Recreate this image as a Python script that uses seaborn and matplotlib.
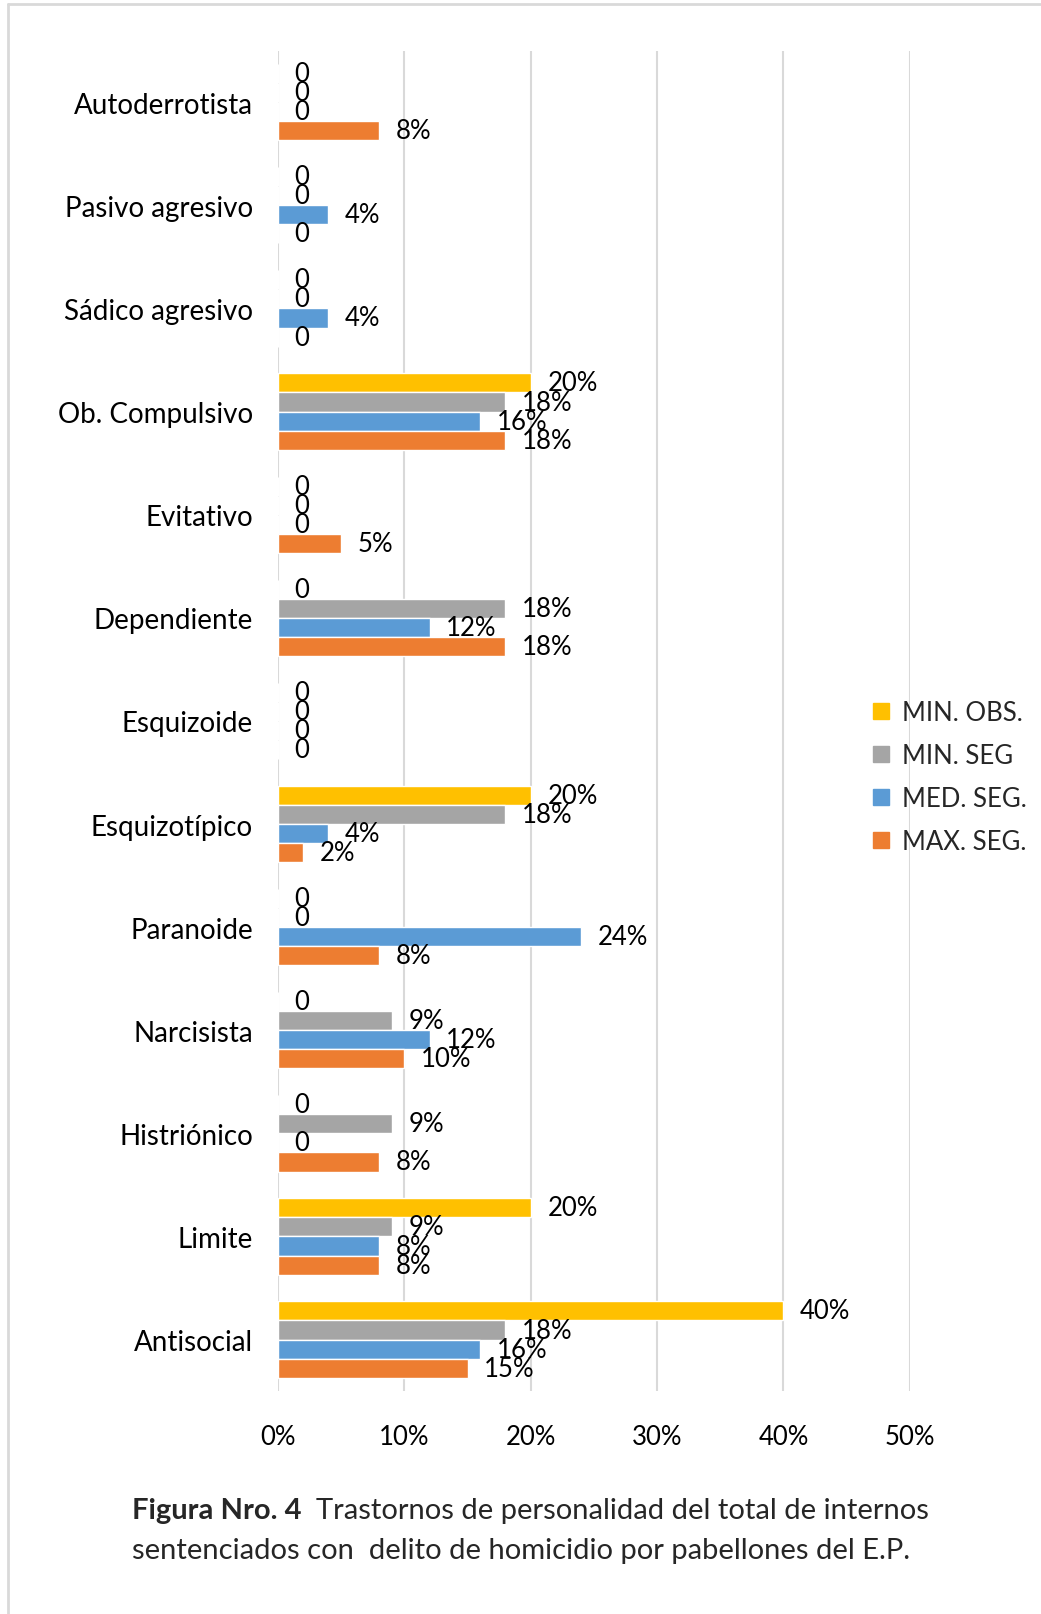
import pandas as pd
import seaborn as sns
import matplotlib.pyplot as plt
from matplotlib.lines import Line2D

categories = ["Autoderrotista", "Pasivo agresivo", "Sádico agresivo", "Ob. Compulsivo",
              "Evitativo", "Dependiente", "Esquizoide", "Esquizotípico", "Paranoide",
              "Narcisista", "Histriónico", "Limite", "Antisocial"]
series = ["MIN. OBS.", "MIN. SEG", "MED. SEG.", "MAX. SEG."]

min_obs = [0, 0, 0, 20, 0, 0, 0, 20, 0, 0, 0, 20, 40]
min_seg = [0, 0, 0, 18, 0, 18, 0, 18, 0, 9, 9, 9, 18]
med_seg = [0, 4, 4, 16, 0, 12, 0, 4, 24, 12, 0, 8, 16]
max_seg = [8, 0, 0, 18, 5, 18, 0, 2, 8, 10, 8, 8, 15]

xticks = [0, 10, 20, 30, 40, 50]
palette = ["#FFC000", "#A5A5A5", "#5B9BD5", "#ED7D31"]

df = pd.DataFrame({"categoria": categories, series[0]: min_obs, series[1]: min_seg,
                   series[2]: med_seg, series[3]: max_seg})
df = df.melt(id_vars="categoria", var_name="pabellon", value_name="valor")

sns.set_theme(style="white")
plt.rcParams["font.family"] = ["Lato", "DejaVu Sans"]

fig = plt.figure(figsize=(10.41, 16.15), dpi=100)
ax = fig.add_axes([0.267, 0.138, 0.607, 0.830])

sns.barplot(data=df, y="categoria", x="valor", hue="pabellon", order=categories,
            hue_order=series, palette=palette, orient="h", width=0.74,
            saturation=1, errorbar=None, legend=False, ax=ax)

# labels on every bar, zeros shown as plain "0"
for cont in ax.containers:
    vals = cont.datavalues
    labs = ["0" if v == 0 else f"{v:.0f}%" for v in vals]
    ax.bar_label(cont, labels=labs, padding=12, fontsize=18.5, color="#000000")

ax.set_xlim(0, 50)
ax.set_xticks(xticks)
ax.set_xticklabels([f"{t}%" for t in xticks])
ax.set_xlabel("")
ax.set_ylabel("")
ax.grid(axis="x", color="#D9D9D9", linewidth=1.5)
ax.set_axisbelow(True)
for s in ax.spines.values():
    s.set_visible(False)
ax.tick_params(axis="x", labelsize=18.5, pad=24, length=0, colors="#000000")
ax.tick_params(axis="y", labelsize=20, pad=18, length=0, colors="#000000")

handles = [Line2D([0], [0], marker="s", linestyle="", markersize=11,
                  markerfacecolor=c, markeredgecolor=c) for c in palette]
fig.legend(handles, series, loc="center left", bbox_to_anchor=(0.812, 0.518),
           frameon=False, fontsize=18.5, labelspacing=0.7, handletextpad=0.3,
           handlelength=1.0)

# caption
t1 = fig.text(132 / 1041, 1 - 1511 / 1615, "Figura Nro. 4", fontsize=21,
              fontweight="bold", va="center", ha="left")
fig.canvas.draw()
bb = t1.get_window_extent()
fig.text((bb.x1 + 14) / 1041, 1 - 1511 / 1615,
         "Trastornos de personalidad del total de internos", fontsize=21,
         va="center", ha="left")
fig.text(132 / 1041, 1 - 1551 / 1615,
         "sentenciados con  delito de homicidio por pabellones del E.P.",
         fontsize=21, va="center", ha="left")

# frame around chart (top and left visible)
fig.add_artist(Line2D([8 / 1041, 1.0], [1 - 5 / 1615, 1 - 5 / 1615],
                      color="#D9D9D9", linewidth=2, transform=fig.transFigure))
fig.add_artist(Line2D([8 / 1041, 8 / 1041], [0, 1 - 5 / 1615],
                      color="#D9D9D9", linewidth=2, transform=fig.transFigure))

fig.savefig("out.png", dpi=100)
